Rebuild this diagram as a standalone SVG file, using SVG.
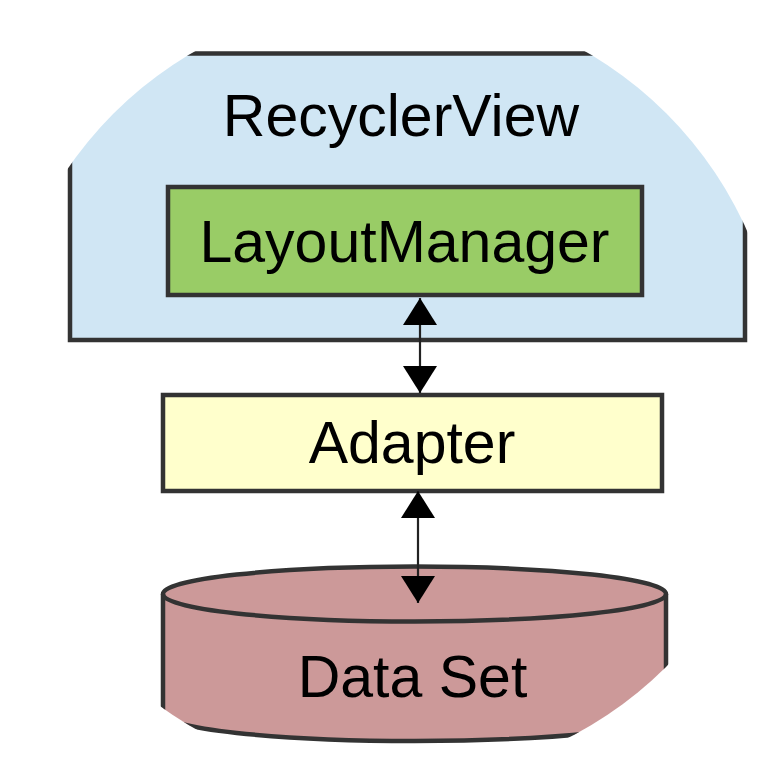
<svg xmlns="http://www.w3.org/2000/svg" width="780" height="780" viewBox="0 0 780 780">
  <style>
    .box { stroke: #333333; stroke-width: 4.5; }
    .label { font-family: "Liberation Sans", Arial, sans-serif; font-size: 59px; fill: #000000; text-anchor: middle; }
    .link { stroke: #222222; stroke-width: 2.2; fill: none; }
  </style>
  <defs>
    <clipPath id="lens">
      <circle cx="390" cy="390" r="391"/>
    </clipPath>
    <marker id="head-end" markerUnits="userSpaceOnUse" markerWidth="27" markerHeight="34" viewBox="0 0 27 34" refX="27" refY="17" orient="auto">
      <path d="M0,0 L27,17 L0,34 Z" fill="#000000"/>
    </marker>
    <marker id="head-start" markerUnits="userSpaceOnUse" markerWidth="27" markerHeight="34" viewBox="0 0 27 34" refX="0" refY="17" orient="auto">
      <path d="M27,0 L0,17 L27,34 Z" fill="#000000"/>
    </marker>
  </defs>
  <rect width="780" height="780" fill="#ffffff"/>
  <g clip-path="url(#lens)">
    <g id="recyclerview">
      <rect class="box" x="70" y="53.5" width="675" height="286.5" fill="#D0E6F4"/>
      <text class="label" x="401" y="136">RecyclerView</text>
    </g>
    <g id="layoutmanager">
      <rect class="box" x="168" y="187" width="474" height="108" fill="#99CC66"/>
      <text class="label" x="404.5" y="262">LayoutManager</text>
    </g>
    <g id="adapter">
      <rect class="box" x="163" y="395" width="499" height="96" fill="#FFFFCC"/>
      <text class="label" x="412" y="463">Adapter</text>
    </g>
    <g id="dataset">
      <path class="box" fill="#CC9999" d="M163,594 L163,713.5 A251.5,27.5 0 0 0 666,713.5 L666,594 A251.5,27.5 0 0 0 163,594 Z"/>
      <path class="box" fill="none" d="M163,594 A251.5,27.5 0 0 0 666,594"/>
      <text class="label" x="412.5" y="697">Data Set</text>
    </g>
    <g id="connectors">
      <line class="link" x1="420" y1="298" x2="420" y2="393" marker-start="url(#head-start)" marker-end="url(#head-end)"/>
      <line class="link" x1="418" y1="491" x2="418" y2="603" marker-start="url(#head-start)" marker-end="url(#head-end)"/>
    </g>
  </g>
</svg>
